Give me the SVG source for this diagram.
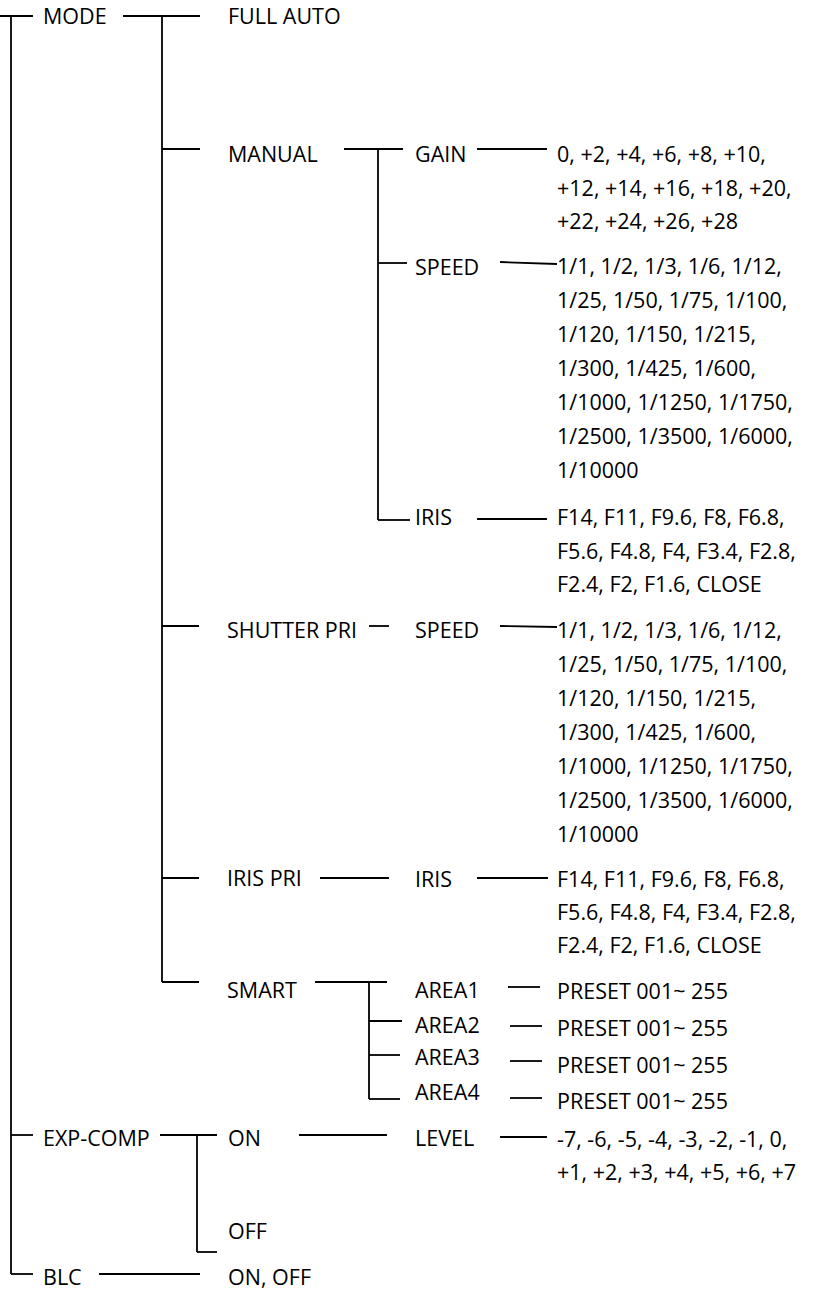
<svg xmlns="http://www.w3.org/2000/svg" width="815" height="1289" viewBox="0 0 815 1289">
<style>
text{font-family:"Open Sans","Noto Sans","DejaVu Sans",sans-serif;font-size:21.5px;fill:#000}
.c line,.c path{stroke:#000;stroke-width:1.8;fill:none}
</style>
<rect width="815" height="1289" fill="#fff"/>
<g class="c" id="connectors">
<line x1="0" y1="16" x2="33" y2="16"/>
<line x1="11" y1="16" x2="11" y2="1274"/>
<line x1="11" y1="1135" x2="33" y2="1135"/>
<line x1="11" y1="1274" x2="33" y2="1274"/>
<line x1="123" y1="16" x2="200" y2="16"/>
<line x1="162" y1="16" x2="162" y2="982"/>
<line x1="162" y1="149" x2="200" y2="149"/>
<line x1="162" y1="626" x2="199" y2="626"/>
<line x1="162" y1="878" x2="199" y2="878"/>
<line x1="162" y1="982" x2="199" y2="982"/>
<line x1="344" y1="149" x2="403" y2="149"/>
<line x1="378" y1="149" x2="378" y2="520"/>
<line x1="378" y1="263" x2="407" y2="263"/>
<line x1="378" y1="520" x2="410" y2="520"/>
<line x1="477" y1="149" x2="547" y2="149"/>
<line x1="500" y1="262" x2="557" y2="264"/>
<line x1="477" y1="519" x2="547" y2="519"/>
<line x1="369" y1="626" x2="389" y2="626"/>
<line x1="500" y1="626" x2="557" y2="627"/>
<line x1="320" y1="878" x2="389" y2="878"/>
<line x1="477" y1="878" x2="548" y2="878"/>
<line x1="315" y1="982" x2="387" y2="982"/>
<line x1="369" y1="982" x2="369" y2="1099"/>
<line x1="369" y1="1021" x2="402" y2="1021"/>
<line x1="369" y1="1055" x2="400" y2="1055"/>
<line x1="369" y1="1099" x2="400" y2="1099"/>
<line x1="508" y1="987" x2="540" y2="987"/>
<line x1="510" y1="1026" x2="542" y2="1026"/>
<line x1="510" y1="1061" x2="542" y2="1061"/>
<line x1="510" y1="1098" x2="542" y2="1098"/>
<line x1="160" y1="1135" x2="217" y2="1135"/>
<line x1="197" y1="1135" x2="197" y2="1252"/>
<line x1="197" y1="1252" x2="217" y2="1252"/>
<line x1="299" y1="1135" x2="387" y2="1135"/>
<line x1="500" y1="1137" x2="547" y2="1137"/>
<line x1="99" y1="1274" x2="200" y2="1274"/>
</g>
<g id="mode"><text x="43" y="24">MODE</text></g>
<g id="full-auto"><text x="228" y="24">FULL AUTO</text></g>
<g id="manual"><text x="228" y="162">MANUAL</text></g>
<g id="manual-gain"><text x="415" y="162">GAIN</text></g>
<g id="manual-gain-values"><text x="557" y="162">0, +2, +4, +6, +8, +10,</text><text x="557" y="195.5">+12, +14, +16, +18, +20,</text><text x="557" y="229">+22, +24, +26, +28</text></g>
<g id="manual-speed"><text x="415" y="275">SPEED</text></g>
<g id="manual-speed-values"><text x="557" y="274">1/1, 1/2, 1/3, 1/6, 1/12,</text><text x="557" y="308">1/25, 1/50, 1/75, 1/100,</text><text x="557" y="342">1/120, 1/150, 1/215,</text><text x="557" y="376">1/300, 1/425, 1/600,</text><text x="557" y="410">1/1000, 1/1250, 1/1750,</text><text x="557" y="444">1/2500, 1/3500, 1/6000,</text><text x="557" y="478">1/10000</text></g>
<g id="manual-iris"><text x="415" y="525">IRIS</text></g>
<g id="manual-iris-values"><text x="557" y="525">F14, F11, F9.6, F8, F6.8,</text><text x="557" y="558.5">F5.6, F4.8, F4, F3.4, F2.8,</text><text x="557" y="592">F2.4, F2, F1.6, CLOSE</text></g>
<g id="shutter-pri"><text x="227" y="638">SHUTTER PRI</text></g>
<g id="shutter-speed"><text x="415" y="638">SPEED</text></g>
<g id="shutter-speed-values"><text x="557" y="638">1/1, 1/2, 1/3, 1/6, 1/12,</text><text x="557" y="672">1/25, 1/50, 1/75, 1/100,</text><text x="557" y="706">1/120, 1/150, 1/215,</text><text x="557" y="740">1/300, 1/425, 1/600,</text><text x="557" y="774">1/1000, 1/1250, 1/1750,</text><text x="557" y="808">1/2500, 1/3500, 1/6000,</text><text x="557" y="842">1/10000</text></g>
<g id="iris-pri"><text x="227" y="886">IRIS PRI</text></g>
<g id="iris-pri-iris"><text x="415" y="887">IRIS</text></g>
<g id="iris-pri-values"><text x="557" y="887">F14, F11, F9.6, F8, F6.8,</text><text x="557" y="920">F5.6, F4.8, F4, F3.4, F2.8,</text><text x="557" y="953">F2.4, F2, F1.6, CLOSE</text></g>
<g id="smart"><text x="227" y="998">SMART</text></g>
<g id="area1"><text x="415" y="998">AREA1</text></g>
<g id="area1-value"><text x="557" y="999">PRESET 001~ 255</text></g>
<g id="area2"><text x="415" y="1033">AREA2</text></g>
<g id="area2-value"><text x="557" y="1036">PRESET 001~ 255</text></g>
<g id="area3"><text x="415" y="1065">AREA3</text></g>
<g id="area3-value"><text x="557" y="1073">PRESET 001~ 255</text></g>
<g id="area4"><text x="415" y="1100">AREA4</text></g>
<g id="area4-value"><text x="557" y="1109">PRESET 001~ 255</text></g>
<g id="exp-comp"><text x="43" y="1146">EXP-COMP</text></g>
<g id="exp-on"><text x="228" y="1146">ON</text></g>
<g id="exp-level"><text x="415" y="1146">LEVEL</text></g>
<g id="exp-level-values"><text x="557" y="1147">-7, -6, -5, -4, -3, -2, -1, 0,</text><text x="557" y="1180">+1, +2, +3, +4, +5, +6, +7</text></g>
<g id="exp-off"><text x="228" y="1239">OFF</text></g>
<g id="blc"><text x="43" y="1285">BLC</text></g>
<g id="blc-value"><text x="228" y="1285">ON, OFF</text></g>
</svg>
